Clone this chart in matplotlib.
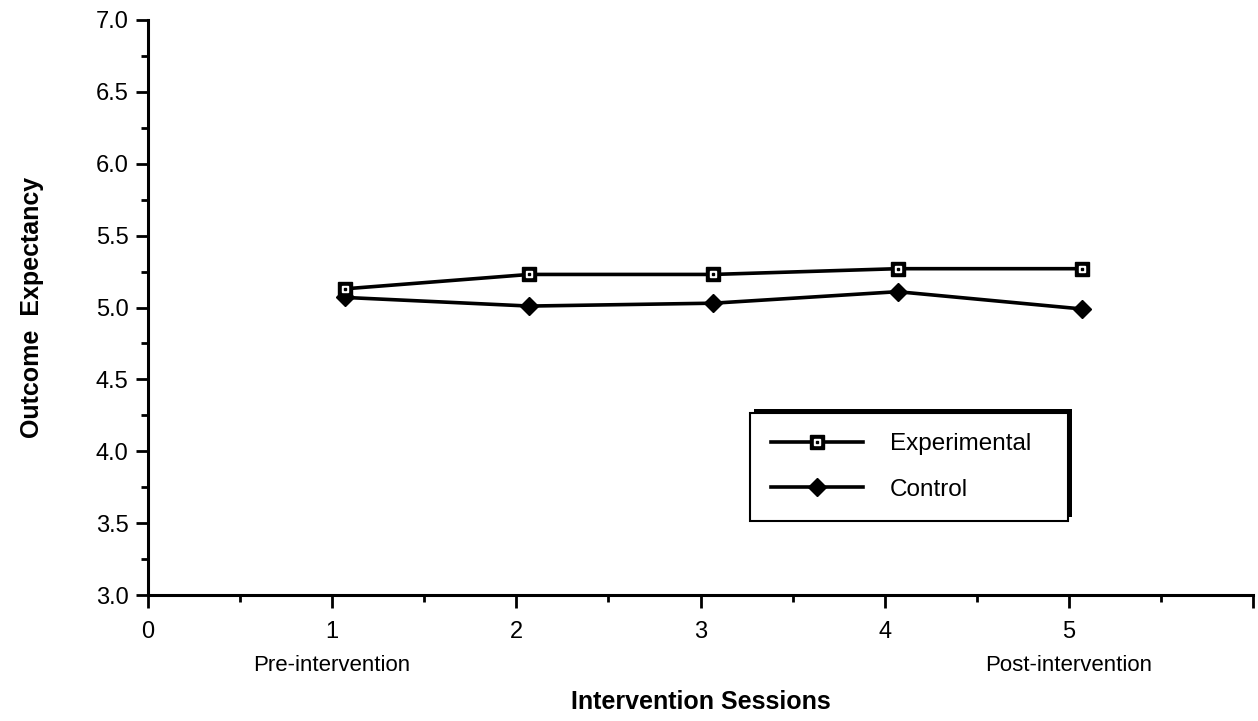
import matplotlib
matplotlib.use("Agg")
import matplotlib.pyplot as plt
from matplotlib.lines import Line2D
from matplotlib.patches import Rectangle
from matplotlib.legend_handler import HandlerTuple
from matplotlib.ticker import MultipleLocator, FormatStrFormatter
import numpy as np

plt.rcParams['font.family'] = ['Liberation Sans', 'DejaVu Sans']

sessions = [1, 2, 3, 4, 5]
experimental = [5.13, 5.23, 5.23, 5.27, 5.27]
control = [5.07, 5.01, 5.03, 5.11, 4.99]
x_tick_labels = ['0', '1', '2', '3', '4', '5', '']
series_names = ['Experimental', 'Control']
x_title = 'Intervention Sessions'
y_title = 'Outcome  Expectancy'
pre_label = 'Pre-intervention'
post_label = 'Post-intervention'

X_SHIFT = 0.07
FS = 17

fig = plt.figure(figsize=(12.58, 7.21), dpi=100)
ax = fig.add_axes([148/1258, 1-595/721, 1105/1258, 575/721])

xs = np.array(sessions) + X_SHIFT
LW = 2.6
# Experimental: line + black square + white inner square + black dot
ax.plot(xs, experimental, color='black', lw=LW, marker='s', ms=10.5,
        mfc='black', mec='black', zorder=3, clip_on=False)
ax.plot(xs, experimental, ls='none', marker='s', ms=4.4, mfc='white',
        mec='white', zorder=4, clip_on=False)
ax.plot(xs, experimental, ls='none', marker='s', ms=1.6, mfc='black',
        mec='black', zorder=5, clip_on=False)
# Control: line + black diamond
ax.plot(xs, control, color='black', lw=LW, marker='D', ms=9,
        mfc='black', mec='black', zorder=3, clip_on=False)

ax.set_xlim(0, 6)
ax.set_ylim(3.0, 7.0)
ax.xaxis.set_major_locator(MultipleLocator(1))
ax.xaxis.set_minor_locator(MultipleLocator(0.5))
ax.set_xticks(range(0, 7))
ax.set_xticklabels(x_tick_labels)
ax.yaxis.set_major_locator(MultipleLocator(0.5))
ax.yaxis.set_minor_locator(MultipleLocator(0.25))
ax.yaxis.set_major_formatter(FormatStrFormatter('%.1f'))

for s in ['top', 'right']:
    ax.spines[s].set_visible(False)
for s in ['left', 'bottom']:
    ax.spines[s].set_linewidth(2.2)

ax.tick_params(axis='both', which='major', direction='out', length=9,
               width=2.0, labelsize=FS)
ax.tick_params(axis='both', which='minor', direction='out', length=5,
               width=2.0)
ax.tick_params(axis='x', which='major', pad=10)
ax.tick_params(axis='y', which='major', pad=5)

ax.set_xlabel(x_title, fontsize=FS+1, fontweight='bold')
ax.xaxis.set_label_coords(0.5, -0.165)
ax.set_ylabel(y_title, fontsize=FS+1, fontweight='bold')
ax.yaxis.set_label_coords(-0.094, 0.5)

ax.text(1, -0.122, pre_label, transform=ax.get_xaxis_transform(),
        ha='center', va='center', fontsize=FS - 1)
ax.text(5, -0.122, post_label, transform=ax.get_xaxis_transform(),
        ha='center', va='center', fontsize=FS - 1)

h_exp = (Line2D([], [], color='black', lw=LW, marker='s', ms=10.5, mfc='black', mec='black'),
         Line2D([], [], ls='none', marker='s', ms=4.4, mfc='white', mec='white'),
         Line2D([], [], ls='none', marker='s', ms=1.6, mfc='black', mec='black'))
h_ctl = Line2D([], [], color='black', lw=LW, marker='D', ms=9, mfc='black', mec='black')

leg = ax.legend([h_exp, h_ctl], series_names,
                handler_map={tuple: HandlerTuple(ndivide=1, pad=0)},
                loc='upper left', bbox_to_anchor=(0.545, 0.127, 0.288, 0.19),
                mode='expand', fontsize=FS + 0.5, frameon=True, fancybox=False,
                edgecolor='black', framealpha=1, handlelength=3.8,
                handletextpad=1.1, labelspacing=0.95, borderpad=0.85,
                borderaxespad=0)
leg.get_frame().set_linewidth(1.5)
leg.set_zorder(10)

fig.canvas.draw()
renderer = fig.canvas.get_renderer()
bb = leg.get_frame().get_window_extent(renderer)
inv = ax.transAxes.inverted()
(x0, y0) = inv.transform((bb.x0 + 4, bb.y0 + 4))
(x1, y1) = inv.transform((bb.x1 + 4, bb.y1 + 4))
shadow = Rectangle((x0, y0), x1 - x0, y1 - y0, transform=ax.transAxes,
                   facecolor='black', edgecolor='none', zorder=9, clip_on=False)
ax.add_artist(shadow)

fig.savefig('out.png', dpi=100, facecolor='white')
